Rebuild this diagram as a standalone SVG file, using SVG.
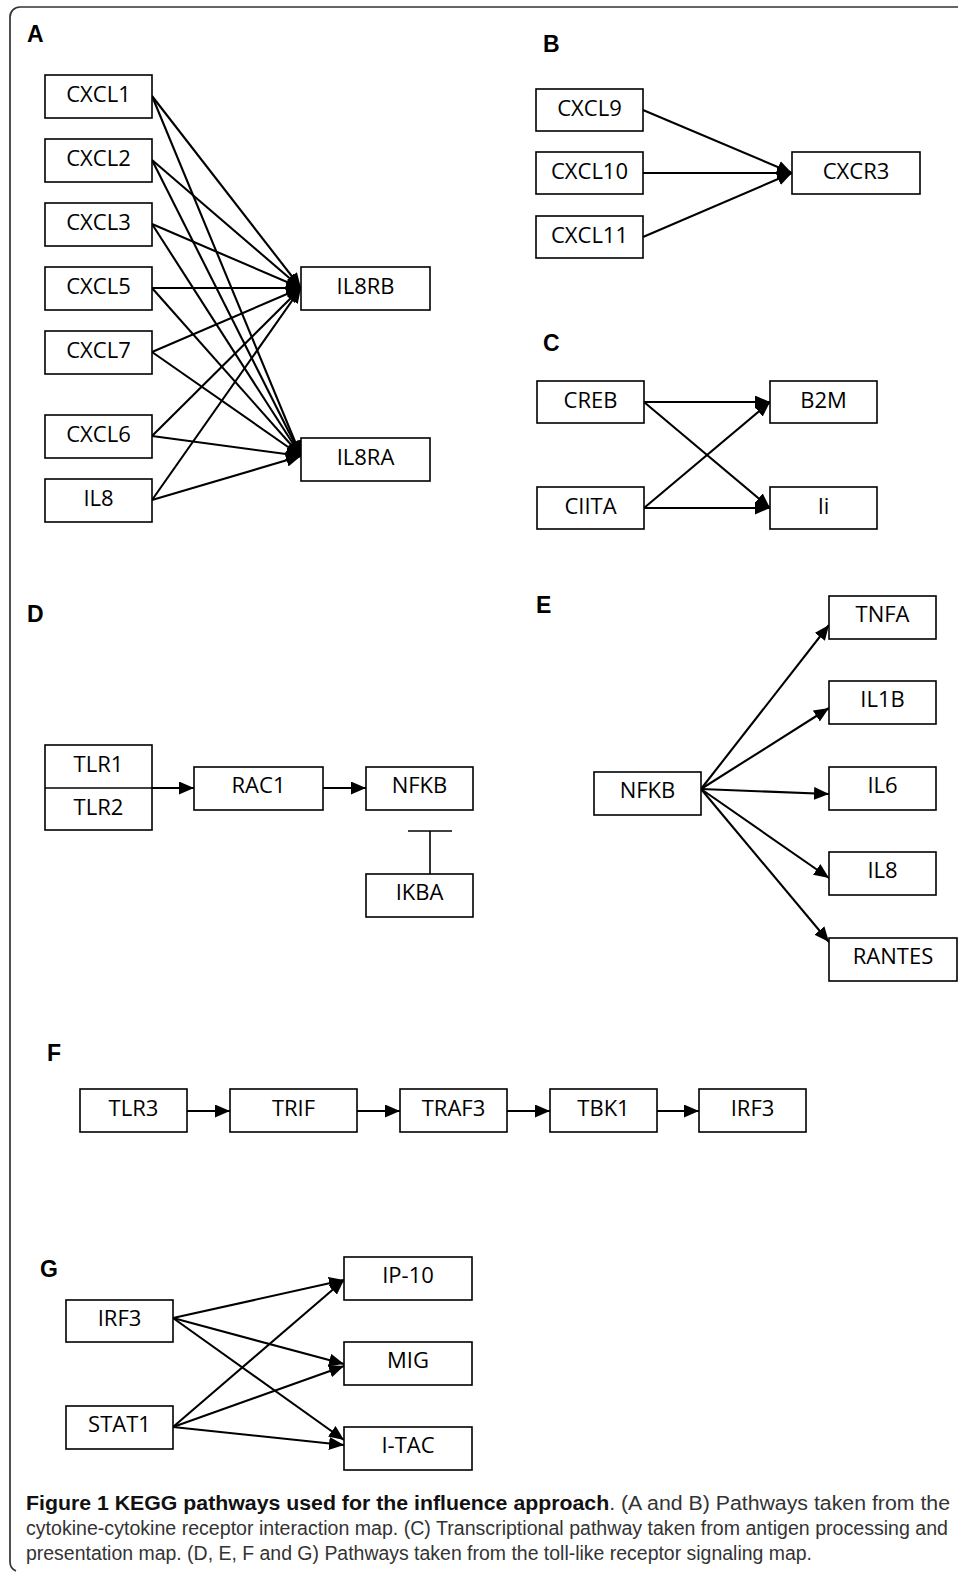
<svg xmlns="http://www.w3.org/2000/svg" width="958" height="1572" viewBox="0 0 958 1572">
<defs>
<style>
.bx{fill:#fff;stroke:#000;stroke-width:1.6}
.t{font-family:"Open Sans","Noto Sans",sans-serif;font-size:22px;fill:#000;text-anchor:middle}
.lb{font-family:"Liberation Sans",Arial,sans-serif;font-size:23px;font-weight:bold;fill:#000}
.e{stroke:#000;stroke-width:2.1;fill:none;marker-end:url(#ah)}
.cap{font-family:"Liberation Sans",Arial,sans-serif;font-size:19.5px;fill:#333}
</style>
<marker id="ah" markerUnits="userSpaceOnUse" markerWidth="15" markerHeight="13" refX="15" refY="6.5" orient="auto">
<path d="M0,0 L15,6.5 L0,13 z" fill="#000"/>
</marker>
</defs>
<rect width="958" height="1572" fill="#fff"/>
<path d="M958 7 H20 A10 10 0 0 0 10 17 V1562 A10 10 0 0 0 16 1571" fill="none" stroke="#333" stroke-width="1.7"/>

<g id="labels">
<text class="lb" x="27" y="42">A</text>
<text class="lb" x="543" y="52">B</text>
<text class="lb" x="543" y="351">C</text>
<text class="lb" x="27" y="622">D</text>
<text class="lb" x="536" y="613">E</text>
<text class="lb" x="47" y="1061">F</text>
<text class="lb" x="40" y="1277">G</text>
</g>

<g id="connectors">
<line class="e" x1="152" y1="96" x2="301" y2="288"/>
<line class="e" x1="152" y1="96" x2="301" y2="456"/>
<line class="e" x1="152" y1="160" x2="301" y2="288"/>
<line class="e" x1="152" y1="160" x2="301" y2="456"/>
<line class="e" x1="152" y1="224" x2="301" y2="288"/>
<line class="e" x1="152" y1="224" x2="301" y2="456"/>
<line class="e" x1="152" y1="288" x2="301" y2="288"/>
<line class="e" x1="152" y1="288" x2="301" y2="456"/>
<line class="e" x1="152" y1="352" x2="301" y2="288"/>
<line class="e" x1="152" y1="352" x2="301" y2="456"/>
<line class="e" x1="152" y1="436" x2="301" y2="288"/>
<line class="e" x1="152" y1="436" x2="301" y2="456"/>
<line class="e" x1="152" y1="500" x2="301" y2="288"/>
<line class="e" x1="152" y1="500" x2="301" y2="456"/>
<line class="e" x1="643" y1="110" x2="792" y2="173"/>
<line class="e" x1="643" y1="173" x2="792" y2="173"/>
<line class="e" x1="643" y1="237" x2="792" y2="173"/>
<line class="e" x1="644" y1="402" x2="770" y2="402"/>
<line class="e" x1="644" y1="402" x2="770" y2="508"/>
<line class="e" x1="644" y1="508" x2="770" y2="402"/>
<line class="e" x1="644" y1="508" x2="770" y2="508"/>
<line class="e" x1="152" y1="788" x2="194" y2="788"/>
<line class="e" x1="323" y1="788" x2="366" y2="788"/>
<line x1="430" y1="874" x2="430" y2="831" stroke="#000" stroke-width="1.6"/>
<line x1="408" y1="831" x2="452" y2="831" stroke="#000" stroke-width="1.6"/>
<line class="e" x1="701" y1="789" x2="829" y2="625"/>
<line class="e" x1="701" y1="789" x2="829" y2="708"/>
<line class="e" x1="701" y1="789" x2="829" y2="794"/>
<line class="e" x1="701" y1="789" x2="829" y2="878"/>
<line class="e" x1="701" y1="789" x2="829" y2="942"/>
<line class="e" x1="187" y1="1111" x2="230" y2="1111"/>
<line class="e" x1="357" y1="1111" x2="400" y2="1111"/>
<line class="e" x1="507" y1="1111" x2="550" y2="1111"/>
<line class="e" x1="657" y1="1111" x2="699" y2="1111"/>
<line class="e" x1="173" y1="1318" x2="344" y2="1280"/>
<line class="e" x1="173" y1="1318" x2="344" y2="1364"/>
<line class="e" x1="173" y1="1318" x2="344" y2="1440"/>
<line class="e" x1="173" y1="1427" x2="344" y2="1280"/>
<line class="e" x1="173" y1="1427" x2="344" y2="1366"/>
<line class="e" x1="173" y1="1427" x2="344" y2="1445"/>
</g>

<g id="A-CXCL1"><rect class="bx" x="45" y="75" width="107" height="43"/><text class="t" x="98.5" y="102">CXCL1</text></g>
<g id="A-CXCL2"><rect class="bx" x="45" y="139" width="107" height="43"/><text class="t" x="98.5" y="166">CXCL2</text></g>
<g id="A-CXCL3"><rect class="bx" x="45" y="203" width="107" height="43"/><text class="t" x="98.5" y="230">CXCL3</text></g>
<g id="A-CXCL5"><rect class="bx" x="45" y="267" width="107" height="43"/><text class="t" x="98.5" y="294">CXCL5</text></g>
<g id="A-CXCL7"><rect class="bx" x="45" y="331" width="107" height="43"/><text class="t" x="98.5" y="358">CXCL7</text></g>
<g id="A-CXCL6"><rect class="bx" x="45" y="415" width="107" height="43"/><text class="t" x="98.5" y="442">CXCL6</text></g>
<g id="A-IL8"><rect class="bx" x="45" y="479" width="107" height="43"/><text class="t" x="98.5" y="506">IL8</text></g>
<g id="A-IL8RB"><rect class="bx" x="301" y="267" width="129" height="43"/><text class="t" x="365.5" y="294">IL8RB</text></g>
<g id="A-IL8RA"><rect class="bx" x="301" y="438" width="129" height="43"/><text class="t" x="365.5" y="465">IL8RA</text></g>

<g id="B-CXCL9"><rect class="bx" x="536" y="89" width="107" height="42"/><text class="t" x="589.5" y="116">CXCL9</text></g>
<g id="B-CXCL10"><rect class="bx" x="536" y="152" width="107" height="42"/><text class="t" x="589.5" y="179">CXCL10</text></g>
<g id="B-CXCL11"><rect class="bx" x="536" y="216" width="107" height="42"/><text class="t" x="589.5" y="243">CXCL11</text></g>
<g id="B-CXCR3"><rect class="bx" x="792" y="152" width="128" height="42"/><text class="t" x="856" y="179">CXCR3</text></g>

<g id="C-CREB"><rect class="bx" x="537" y="381" width="107" height="42"/><text class="t" x="590.5" y="408">CREB</text></g>
<g id="C-CIITA"><rect class="bx" x="537" y="487" width="107" height="42"/><text class="t" x="590.5" y="514">CIITA</text></g>
<g id="C-B2M"><rect class="bx" x="770" y="381" width="107" height="42"/><text class="t" x="823.5" y="408">B2M</text></g>
<g id="C-Ii"><rect class="bx" x="770" y="487" width="107" height="42"/><text class="t" x="823.5" y="514">Ii</text></g>

<g id="D-TLR1-TLR2"><rect class="bx" x="45" y="745" width="107" height="85"/><line x1="45" y1="788" x2="152" y2="788" stroke="#000" stroke-width="1.6"/><text class="t" x="98.5" y="772">TLR1</text><text class="t" x="98.5" y="815">TLR2</text></g>
<g id="D-RAC1"><rect class="bx" x="194" y="767" width="129" height="43"/><text class="t" x="258.5" y="793">RAC1</text></g>
<g id="D-NFKB"><rect class="bx" x="366" y="767" width="107" height="43"/><text class="t" x="419.5" y="793">NFKB</text></g>
<g id="D-IKBA"><rect class="bx" x="366" y="874" width="107" height="43"/><text class="t" x="419.5" y="900">IKBA</text></g>

<g id="E-NFKB"><rect class="bx" x="594" y="772" width="107" height="43"/><text class="t" x="647.5" y="798">NFKB</text></g>
<g id="E-TNFA"><rect class="bx" x="829" y="596" width="107" height="43"/><text class="t" x="882.5" y="622">TNFA</text></g>
<g id="E-IL1B"><rect class="bx" x="829" y="681" width="107" height="43"/><text class="t" x="882.5" y="707">IL1B</text></g>
<g id="E-IL6"><rect class="bx" x="829" y="767" width="107" height="43"/><text class="t" x="882.5" y="793">IL6</text></g>
<g id="E-IL8"><rect class="bx" x="829" y="852" width="107" height="43"/><text class="t" x="882.5" y="878">IL8</text></g>
<g id="E-RANTES"><rect class="bx" x="829" y="938" width="128" height="43"/><text class="t" x="893" y="964">RANTES</text></g>

<g id="F-TLR3"><rect class="bx" x="80" y="1089" width="107" height="43"/><text class="t" x="133.5" y="1116">TLR3</text></g>
<g id="F-TRIF"><rect class="bx" x="230" y="1089" width="127" height="43"/><text class="t" x="293.5" y="1116">TRIF</text></g>
<g id="F-TRAF3"><rect class="bx" x="400" y="1089" width="107" height="43"/><text class="t" x="453.5" y="1116">TRAF3</text></g>
<g id="F-TBK1"><rect class="bx" x="550" y="1089" width="107" height="43"/><text class="t" x="603.5" y="1116">TBK1</text></g>
<g id="F-IRF3"><rect class="bx" x="699" y="1089" width="107" height="43"/><text class="t" x="752.5" y="1116">IRF3</text></g>

<g id="G-IRF3"><rect class="bx" x="66" y="1300" width="107" height="42"/><text class="t" x="119.5" y="1326">IRF3</text></g>
<g id="G-STAT1"><rect class="bx" x="66" y="1406" width="107" height="43"/><text class="t" x="119.5" y="1432">STAT1</text></g>
<g id="G-IP-10"><rect class="bx" x="344" y="1257" width="128" height="43"/><text class="t" x="408" y="1283">IP-10</text></g>
<g id="G-MIG"><rect class="bx" x="344" y="1342" width="128" height="43"/><text class="t" x="408" y="1368">MIG</text></g>
<g id="G-I-TAC"><rect class="bx" x="344" y="1427" width="128" height="43"/><text class="t" x="408" y="1453">I-TAC</text></g>

<g id="caption">
<text class="cap" x="26" y="1510" textLength="924" lengthAdjust="spacingAndGlyphs"><tspan font-weight="bold" fill="#111">Figure 1 KEGG pathways used for the influence approach</tspan>. (A and B) Pathways taken from the</text>
<text class="cap" x="26" y="1535" textLength="922" lengthAdjust="spacingAndGlyphs">cytokine-cytokine receptor interaction map. (C) Transcriptional pathway taken from antigen processing and</text>
<text class="cap" x="26" y="1560" textLength="786" lengthAdjust="spacingAndGlyphs">presentation map. (D, E, F and G) Pathways taken from the toll-like receptor signaling map.</text>
</g>
</svg>
